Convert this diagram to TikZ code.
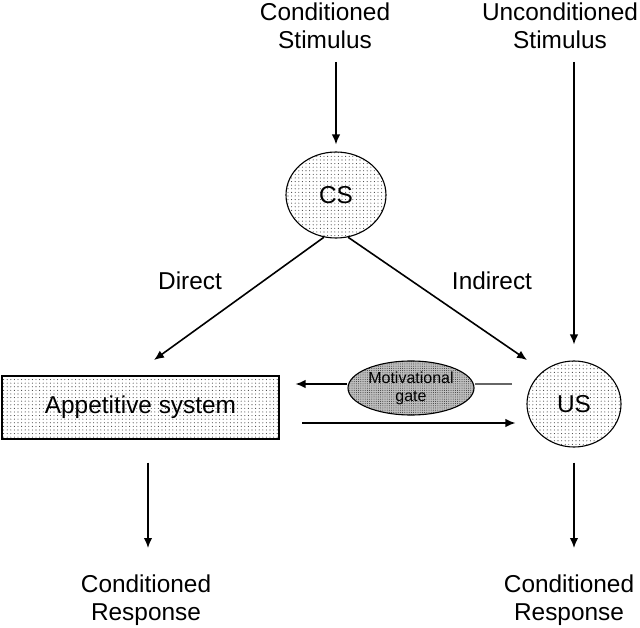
\documentclass[tikz,border=0pt]{standalone}
\usepackage{fontspec}
\setmainfont{Liberation Sans}
\usetikzlibrary{arrows.meta,shapes.geometric,patterns.meta}
\begin{document}
\begin{tikzpicture}[x=1pt,y=-1pt,
  lbl/.style={font=\fontsize{24.4}{28}\selectfont, align=center, inner sep=0pt},
  arr/.style={line width=1.6pt, -{Latex[length=10pt,width=8.5pt]}},
  light/.style={draw, line width=1.1pt, preaction={fill=white},
    pattern={Dots[distance=3.6pt,radius=0.55pt]}, pattern color=black!75},
  circ/.style={light, ellipse, inner sep=0pt, font=\fontsize{24.4}{28}\selectfont},
  gatestyle/.style={draw, line width=1.1pt, ellipse, inner sep=0pt,
    preaction={fill=gray!50}, pattern={Dots[distance=2.2pt,radius=0.5pt]},
    pattern color=black!80, font=\fontsize{16}{18}\selectfont, align=center}
]
\useasboundingbox (0,0) rectangle (640,628);
% text nodes
\node[lbl, anchor=north] (cstim) at (325,2.5) {Conditioned\\Stimulus};
\node[lbl, anchor=north] (ustim) at (560,2.5) {Unconditioned\\Stimulus};
\node[lbl, anchor=north] (cresp1) at (146,574.5) {Conditioned\\Response};
\node[lbl, anchor=north] (cresp2) at (569,574.5) {Conditioned\\Response};
\node[lbl, anchor=base] (direct) at (190,290) {Direct};
\node[lbl, anchor=base] (indirect) at (492,290) {Indirect};
% shapes
\node[circ, minimum width=100pt, minimum height=86pt] (CS) at (336,195) {CS};
\node[circ, minimum width=94pt, minimum height=86pt] (US) at (574,404) {US};
\node[light, rectangle, minimum width=277pt, minimum height=63pt, inner sep=0pt,
  font=\fontsize{24.4}{28}\selectfont] (app) at (140.5,407.5) {Appetitive system};
\node[gatestyle, minimum width=126pt, minimum height=54pt] (gate) at (411,388) {Motivational\\gate};
% coordinates
\coordinate (csin) at (336,62);
\coordinate (usin) at (574,62);
\coordinate (dirend) at (154,360);
\coordinate (indend) at (527,360);
\coordinate (gl) at (512,384);
\coordinate (bot) at (302,423);
\coordinate (r1) at (148,0);
% connectors
\draw[arr, shorten >=7pt] (csin) -- (CS.north);
\draw[arr, shorten >=16pt] (usin) -- (US.north);
\draw[arr] (CS.254) -- (dirend);
\draw[arr] (CS.286) -- (indend);
\draw[line width=1.1pt, gray!80!black] (gl) -- (gl -| gate.east);
\draw[arr, shorten >=16pt] ([yshift=4pt]gate.west) -- ([yshift=4pt]gate.west -| app.east);
\draw[arr, shorten >=11pt] (bot) -- (bot -| US.west);
\draw[arr, shorten <=23pt, shorten >=26.5pt] (app.south -| r1) -- (cresp1.north -| r1);
\draw[arr, shorten <=15pt, shorten >=26.5pt] (US.south) -- (US.south |- cresp2.north);
\end{tikzpicture}
\end{document}
